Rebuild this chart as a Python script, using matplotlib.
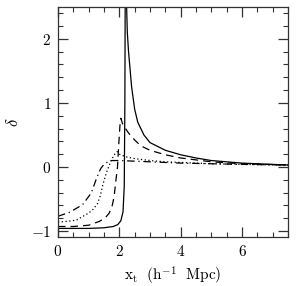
import matplotlib
matplotlib.use("Agg")
import matplotlib.pyplot as plt
from matplotlib.ticker import MultipleLocator

plt.rcParams['font.family'] = ['cmr10', 'DejaVu Serif']
plt.rcParams['mathtext.fontset'] = 'cm'
plt.rcParams['axes.formatter.use_mathtext'] = True

# values
solid_x = [0, 0.5, 1.0, 1.5, 1.8, 1.95, 2.05, 2.12, 2.16, 2.18, 2.2, 2.22, 2.26, 2.3, 2.4,
           2.5, 2.6, 2.8, 3.0, 3.5, 4.0, 4.5, 5.0, 6.0, 7.0, 7.5]
solid_y = [-0.96, -0.96, -0.96, -0.95, -0.93, -0.9, -0.84, -0.7, -0.3, 1.0, 4.0, 2.8, 2.1, 1.8, 1.25,
           0.9, 0.7, 0.5, 0.38, 0.26, 0.19, 0.14, 0.1, 0.06, 0.04, 0.03]

dashed_x = [0, 0.5, 1.0, 1.35, 1.55, 1.67, 1.77, 1.83, 1.89, 1.94, 1.98, 2.02, 2.05, 2.1,
            2.2, 2.3, 2.5, 2.7, 3.0, 3.5, 4.0, 5.0, 6.0, 7.5]
dashed_y = [-0.93, -0.93, -0.91, -0.85, -0.79, -0.72, -0.6, -0.46, -0.2, 0.0, 0.35, 0.65, 0.76, 0.68,
            0.6, 0.53, 0.42, 0.33, 0.26, 0.19, 0.14, 0.08, 0.05, 0.03]

dotted_x = [0, 0.3, 0.6, 1.0, 1.15, 1.29, 1.38, 1.45, 1.57, 1.73, 1.85, 1.93, 2.0, 2.2,
            2.5, 3.0, 3.5, 4.0, 5.0, 6.0, 7.5]
dotted_y = [-0.86, -0.85, -0.83, -0.72, -0.66, -0.57, -0.45, -0.3, -0.1, 0.1, 0.2, 0.24, 0.2, 0.16,
            0.13, 0.1, 0.08, 0.07, 0.05, 0.04, 0.03]

dashdot_x = [0, 0.37, 0.8, 1.08, 1.24, 1.32, 1.4, 1.5, 1.62, 1.75, 2.0, 2.5, 3.0, 4.0, 5.0, 6.0, 7.5]
dashdot_y = [-0.77, -0.71, -0.59, -0.41, -0.2, -0.1, -0.02, 0.04, 0.08, 0.1, 0.1, 0.09, 0.08,
             0.06, 0.05, 0.04, 0.03]

fig = plt.figure(figsize=(2.96, 2.86), dpi=100)
ax = fig.add_axes([0.196, 0.170, 0.777, 0.806])

lw = 0.9
ax.plot(solid_x, solid_y, color='black', lw=lw)
ax.plot(dashed_x, dashed_y, color='black', lw=lw, dashes=(6, 4))
ax.plot(dotted_x, dotted_y, color='black', lw=lw, dashes=(1, 2))
ax.plot(dashdot_x, dashdot_y, color='black', lw=lw, dashes=(6, 3, 1, 3))

ax.set_xlim(0, 7.5)
ax.set_ylim(-1.1, 2.5)
ax.xaxis.set_major_locator(MultipleLocator(2))
ax.xaxis.set_minor_locator(MultipleLocator(0.5))
ax.yaxis.set_major_locator(MultipleLocator(1))
ax.yaxis.set_minor_locator(MultipleLocator(0.2))
ax.tick_params(which='both', direction='in', top=True, right=True, labelsize=11, color='#333333')
ax.tick_params(which='major', length=7, width=0.9, pad=5)
ax.tick_params(which='minor', length=3.5, width=0.8)
for s in ax.spines.values():
    s.set_linewidth(0.9)
    s.set_color('#333333')

ax.set_xlabel(r'$\mathrm{x_t}\ \ \mathrm{(h^{-1}\ \ Mpc)}$', fontsize=11, labelpad=4)
ax.set_ylabel(r'$\delta$', fontsize=12)
ax.yaxis.set_label_coords(-0.16, 0.5)

fig.savefig('out.png', dpi=100)
